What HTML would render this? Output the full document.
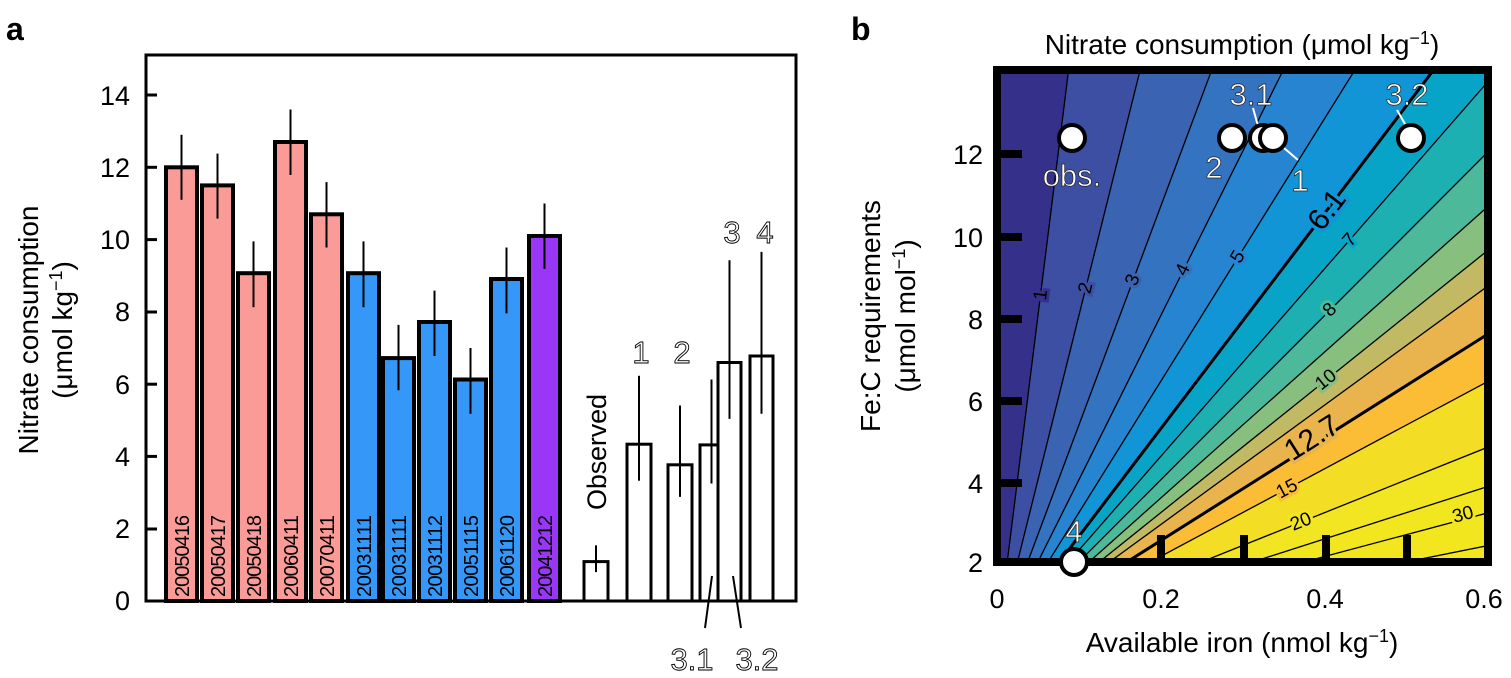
<!DOCTYPE html>
<html><head><meta charset="utf-8"><style>
html,body{margin:0;padding:0;background:#fff;}
svg{display:block;font-family:"Liberation Sans",Arial,sans-serif;}
</style></head><body>
<svg width="1511" height="678" viewBox="0 0 1511 678" xmlns="http://www.w3.org/2000/svg">
<!-- Panel a -->
<text x="6" y="40" font-size="32" font-weight="bold">a</text>
<g font-size="27" text-anchor="end">
<text x="130" y="610">0</text><text x="130" y="538">2</text><text x="130" y="466">4</text>
<text x="130" y="394">6</text><text x="130" y="321">8</text><text x="130" y="249">10</text>
<text x="130" y="177">12</text><text x="130" y="105">14</text>
</g>
<g stroke="#000" stroke-width="3">
<line x1="146" y1="529" x2="157" y2="529"/><line x1="146" y1="456.4" x2="157" y2="456.4"/>
<line x1="146" y1="384.2" x2="157" y2="384.2"/><line x1="146" y1="312" x2="157" y2="312"/>
<line x1="146" y1="239.6" x2="157" y2="239.6"/><line x1="146" y1="167.3" x2="157" y2="167.3"/>
<line x1="146" y1="95" x2="157" y2="95"/>
</g>
<text transform="translate(38,330) rotate(-90)" font-size="28" text-anchor="middle">Nitrate consumption</text>
<text transform="translate(72,330) rotate(-90)" font-size="28" text-anchor="middle">(μmol kg<tspan dy="-10" font-size="18">−1</tspan><tspan dy="10">)</tspan></text>

<g stroke="#000" stroke-width="4">
<rect x="166" y="167.3" width="31" height="433.7" fill="#fb9b98"/>
<rect x="202" y="185.4" width="31" height="415.6" fill="#fb9b98"/>
<rect x="238" y="273.2" width="31" height="327.8" fill="#fb9b98"/>
<rect x="275" y="142" width="31" height="459" fill="#fb9b98"/>
<rect x="311" y="214.3" width="31" height="386.7" fill="#fb9b98"/>
<rect x="348" y="273.2" width="31" height="327.8" fill="#3597f8"/>
<rect x="383" y="358.1" width="31" height="242.9" fill="#3597f8"/>
<rect x="419" y="322" width="31" height="279" fill="#3597f8"/>
<rect x="455" y="379.5" width="31" height="221.5" fill="#3597f8"/>
<rect x="491" y="279" width="31" height="322" fill="#3597f8"/>
<rect x="529" y="236" width="31" height="365" fill="#9a36f6"/>
</g>
<g stroke="#000" stroke-width="3" fill="#fff">
<rect x="584" y="561.6" width="24" height="39.4"/>
<rect x="627" y="444.2" width="24" height="156.8"/>
<rect x="668" y="464.8" width="24" height="136.2"/>
<rect x="700" y="444.9" width="23" height="156.1"/>
<rect x="718" y="362.5" width="23" height="238.5"/>
<rect x="750" y="356" width="23" height="245"/>
</g>
<g stroke="#000" stroke-width="2">
<line x1="181.5" y1="134.8" x2="181.5" y2="199.8"/>
<line x1="217.5" y1="153.6" x2="217.5" y2="218.6"/>
<line x1="253.5" y1="241.4" x2="253.5" y2="307.2"/>
<line x1="290.5" y1="109.5" x2="290.5" y2="175"/>
<line x1="326.5" y1="182.1" x2="326.5" y2="247.5"/>
<line x1="363.5" y1="241.4" x2="363.5" y2="307.2"/>
<line x1="398.5" y1="324.9" x2="398.5" y2="390.3"/>
<line x1="434.5" y1="290.6" x2="434.5" y2="356"/>
<line x1="470.5" y1="348" x2="470.5" y2="413.8"/>
<line x1="506.5" y1="247.5" x2="506.5" y2="313.3"/>
<line x1="544.5" y1="203.5" x2="544.5" y2="268.9"/>
<line x1="596" y1="545.3" x2="596" y2="572.1"/>
<line x1="639" y1="375.8" x2="639" y2="480.7"/>
<line x1="680" y1="405.5" x2="680" y2="496.9"/>
<line x1="711.5" y1="379.5" x2="711.5" y2="483.5"/>
<line x1="729.5" y1="260.2" x2="729.5" y2="418.9"/>
<line x1="761.5" y1="251.9" x2="761.5" y2="413.8"/>
<line x1="712" y1="576" x2="705" y2="628"/>
<line x1="733" y1="576" x2="741" y2="628"/>
</g>
<g font-size="20">
<text transform="translate(189,597) rotate(-90)" textLength="82">20050416</text>
<text transform="translate(225,597) rotate(-90)" textLength="82">20050417</text>
<text transform="translate(261,597) rotate(-90)" textLength="82">20050418</text>
<text transform="translate(298,597) rotate(-90)" textLength="82">20060411</text>
<text transform="translate(334,597) rotate(-90)" textLength="82">20070411</text>
<text transform="translate(371,597) rotate(-90)" textLength="82">20031111</text>
<text transform="translate(406,597) rotate(-90)" textLength="82">20031111</text>
<text transform="translate(442,597) rotate(-90)" textLength="82">20031112</text>
<text transform="translate(478,597) rotate(-90)" textLength="82">20051115</text>
<text transform="translate(514,597) rotate(-90)" textLength="82">20061120</text>
<text transform="translate(552,597) rotate(-90)" textLength="82">20041212</text>
</g>
<text transform="translate(606,510) rotate(-90)" font-size="27" textLength="116">Observed</text>
<g font-size="31" fill="#fff" stroke="#000" stroke-width="0.9" text-anchor="middle">
<text x="641" y="363">1</text><text x="682" y="363">2</text>
<text x="732" y="243">3</text><text x="765" y="243">4</text>
<text x="692" y="670">3.1</text><text x="757" y="670">3.2</text>
</g>
<rect x="146" y="55" width="650" height="546" fill="none" stroke="#000" stroke-width="3"/>

<!-- Panel b -->
<text x="851" y="40" font-size="32" font-weight="bold">b</text>
<text x="1242" y="54" font-size="28" text-anchor="middle">Nitrate consumption (μmol kg<tspan dy="-10" font-size="18">−1</tspan><tspan dy="10">)</tspan></text>
<defs><clipPath id="pc"><rect x="997" y="70" width="491" height="492"/></clipPath></defs>
<g clip-path="url(#pc)">
<rect x="990" y="60" width="510" height="510" fill="#f2e61f"/>
<polygon points="997,644 2633,119 2633,-30000 997,-30000" fill="#f2e521"/>
<polygon points="997,644 2633,-12 2633,-30000 997,-30000" fill="#f3de25"/>
<polygon points="997,644 2633,-231 2633,-30000 997,-30000" fill="#fbbd36"/>
<polygon points="997,644 2633,-389 2633,-30000 997,-30000" fill="#e9b44e"/>
<polygon points="997,644 2633,-549 2633,-30000 997,-30000" fill="#c2b965"/>
<polygon points="997,644 2633,-668 2633,-30000 997,-30000" fill="#86bf7e"/>
<polygon points="997,644 2633,-814 2633,-30000 997,-30000" fill="#4cb99a"/>
<polygon points="997,644 2633,-996 2633,-30000 997,-30000" fill="#1cb0b3"/>
<polygon points="997,644 2633,-1230 2633,-30000 997,-30000" fill="#08a4c8"/>
<polygon points="997,644 2633,-1507 2633,-30000 997,-30000" fill="#1195d6"/>
<polygon points="997,644 2633,-1980 2633,-30000 997,-30000" fill="#2784d0"/>
<polygon points="997,644 2633,-2636 2633,-30000 997,-30000" fill="#3473c0"/>
<polygon points="997,644 2633,-3729 2633,-30000 997,-30000" fill="#3a63b1"/>
<polygon points="997,644 2633,-5916 2633,-30000 997,-30000" fill="#3d4fa2"/>
<polygon points="997,644 2633,-12476 2633,-30000 997,-30000" fill="#35318a"/>
<g stroke="#000" stroke-width="1.3" fill="none">
<line x1="997" y1="644" x2="2633" y2="-12476"/>
<line x1="997" y1="644" x2="2633" y2="-5916"/>
<line x1="997" y1="644" x2="2633" y2="-3729"/>
<line x1="997" y1="644" x2="2633" y2="-2636"/>
<line x1="997" y1="644" x2="2633" y2="-1980"/>
<line x1="997" y1="644" x2="2633" y2="-1507" stroke-width="3"/>
<line x1="997" y1="644" x2="2633" y2="-1230"/>
<line x1="997" y1="644" x2="2633" y2="-996"/>
<line x1="997" y1="644" x2="2633" y2="-814"/>
<line x1="997" y1="644" x2="2633" y2="-668"/>
<line x1="997" y1="644" x2="2633" y2="-549"/>
<line x1="997" y1="644" x2="2633" y2="-389" stroke-width="3"/>
<line x1="997" y1="644" x2="2633" y2="-231"/>
<line x1="997" y1="644" x2="2633" y2="-12"/>
<line x1="997" y1="644" x2="2633" y2="119"/>
<line x1="997" y1="644" x2="2633" y2="207"/>
<line x1="997" y1="644" x2="2633" y2="316"/>
</g>
<g font-size="19" text-anchor="middle" dominant-baseline="central" paint-order="stroke">
<text transform="translate(1041,295) rotate(-83)" stroke="#35318a" stroke-width="6">1</text>
<text transform="translate(1086,288) rotate(-76)" stroke="#3d4fa2" stroke-width="6">2</text>
<text transform="translate(1133,280) rotate(-69.5)" stroke="#3a63b1" stroke-width="6">3</text>
<text transform="translate(1183,270) rotate(-63.5)" stroke="#3473c0" stroke-width="6">4</text>
<text transform="translate(1238,257) rotate(-58)" stroke="#2784d0" stroke-width="6">5</text>
<text transform="translate(1327,210) rotate(-52.7)" font-size="30" stroke="#1195d6" stroke-width="7">6.1</text>
<text transform="translate(1350,240) rotate(-49)" stroke="#08a4c8" stroke-width="6">7</text>
<text transform="translate(1330,310) rotate(-45)" stroke="#4cb99a" stroke-width="6">8</text>
<text transform="translate(1326,380) rotate(-38.7)" stroke="#86bf7e" stroke-width="6">10</text>
<text transform="translate(1312,438) rotate(-32.3)" font-size="30" stroke="#e9b44e" stroke-width="7">12.7</text>
<text transform="translate(1287,489) rotate(-28)" stroke="#fbbd36" stroke-width="6">15</text>
<text transform="translate(1301,522) rotate(-21.8)" stroke="#f2e521" stroke-width="6">20</text>
<text transform="translate(1463,515) rotate(-15)" stroke="#f2e61f" stroke-width="6">30</text>
</g>
</g>
<g stroke="#000" stroke-width="8">
<line x1="997" y1="154" x2="1022" y2="154"/><line x1="997" y1="237" x2="1022" y2="237"/>
<line x1="997" y1="319" x2="1022" y2="319"/><line x1="997" y1="401" x2="1022" y2="401"/>
<line x1="997" y1="483" x2="1022" y2="483"/>
<line x1="1161" y1="562" x2="1161" y2="535"/><line x1="1244" y1="562" x2="1244" y2="535"/>
<line x1="1326" y1="562" x2="1326" y2="535"/><line x1="1407" y1="562" x2="1407" y2="535"/>
</g>
<rect x="997" y="70" width="491" height="492" fill="none" stroke="#000" stroke-width="8"/>
<g font-size="27" text-anchor="end">
<text x="983" y="572">2</text><text x="983" y="493">4</text><text x="983" y="411">6</text>
<text x="983" y="329">8</text><text x="983" y="247">10</text><text x="983" y="164">12</text>
</g>
<g font-size="27" text-anchor="middle">
<text x="997" y="608">0</text><text x="1161" y="608">0.2</text>
<text x="1325" y="608">0.4</text><text x="1484" y="608">0.6</text>
</g>
<text x="1242" y="652" font-size="28" text-anchor="middle">Available iron (nmol kg<tspan dy="-10" font-size="18">−1</tspan><tspan dy="10">)</tspan></text>
<text transform="translate(880,316) rotate(-90)" font-size="28" text-anchor="middle">Fe:C requirements</text>
<text transform="translate(915,316) rotate(-90)" font-size="28" text-anchor="middle">(μmol mol<tspan dy="-10" font-size="18">−1</tspan><tspan dy="10">)</tspan></text>
<g stroke="#fff" stroke-width="2">
<line x1="1253" y1="108" x2="1258" y2="126"/>
<line x1="1284" y1="148" x2="1298" y2="160"/>
<line x1="1397" y1="110" x2="1405" y2="124"/>
</g>
<g fill="#fff" stroke="#000" stroke-width="4">
<circle cx="1072" cy="138" r="13"/>
<circle cx="1232" cy="138" r="13"/>
<circle cx="1263" cy="138" r="13"/>
<circle cx="1273" cy="138" r="13"/>
<circle cx="1411" cy="138" r="13"/>
<circle cx="1074" cy="562" r="13"/>
</g>
<g font-size="31" fill="#fff" stroke="#222" stroke-width="0.7" text-anchor="middle">
<text x="1072" y="186">obs.</text>
<text x="1214" y="178">2</text>
<text x="1300" y="191">1</text>
<text x="1251" y="105">3.1</text>
<text x="1407" y="105">3.2</text>
<text x="1074" y="542">4</text>
</g>
</svg>
</body></html>
